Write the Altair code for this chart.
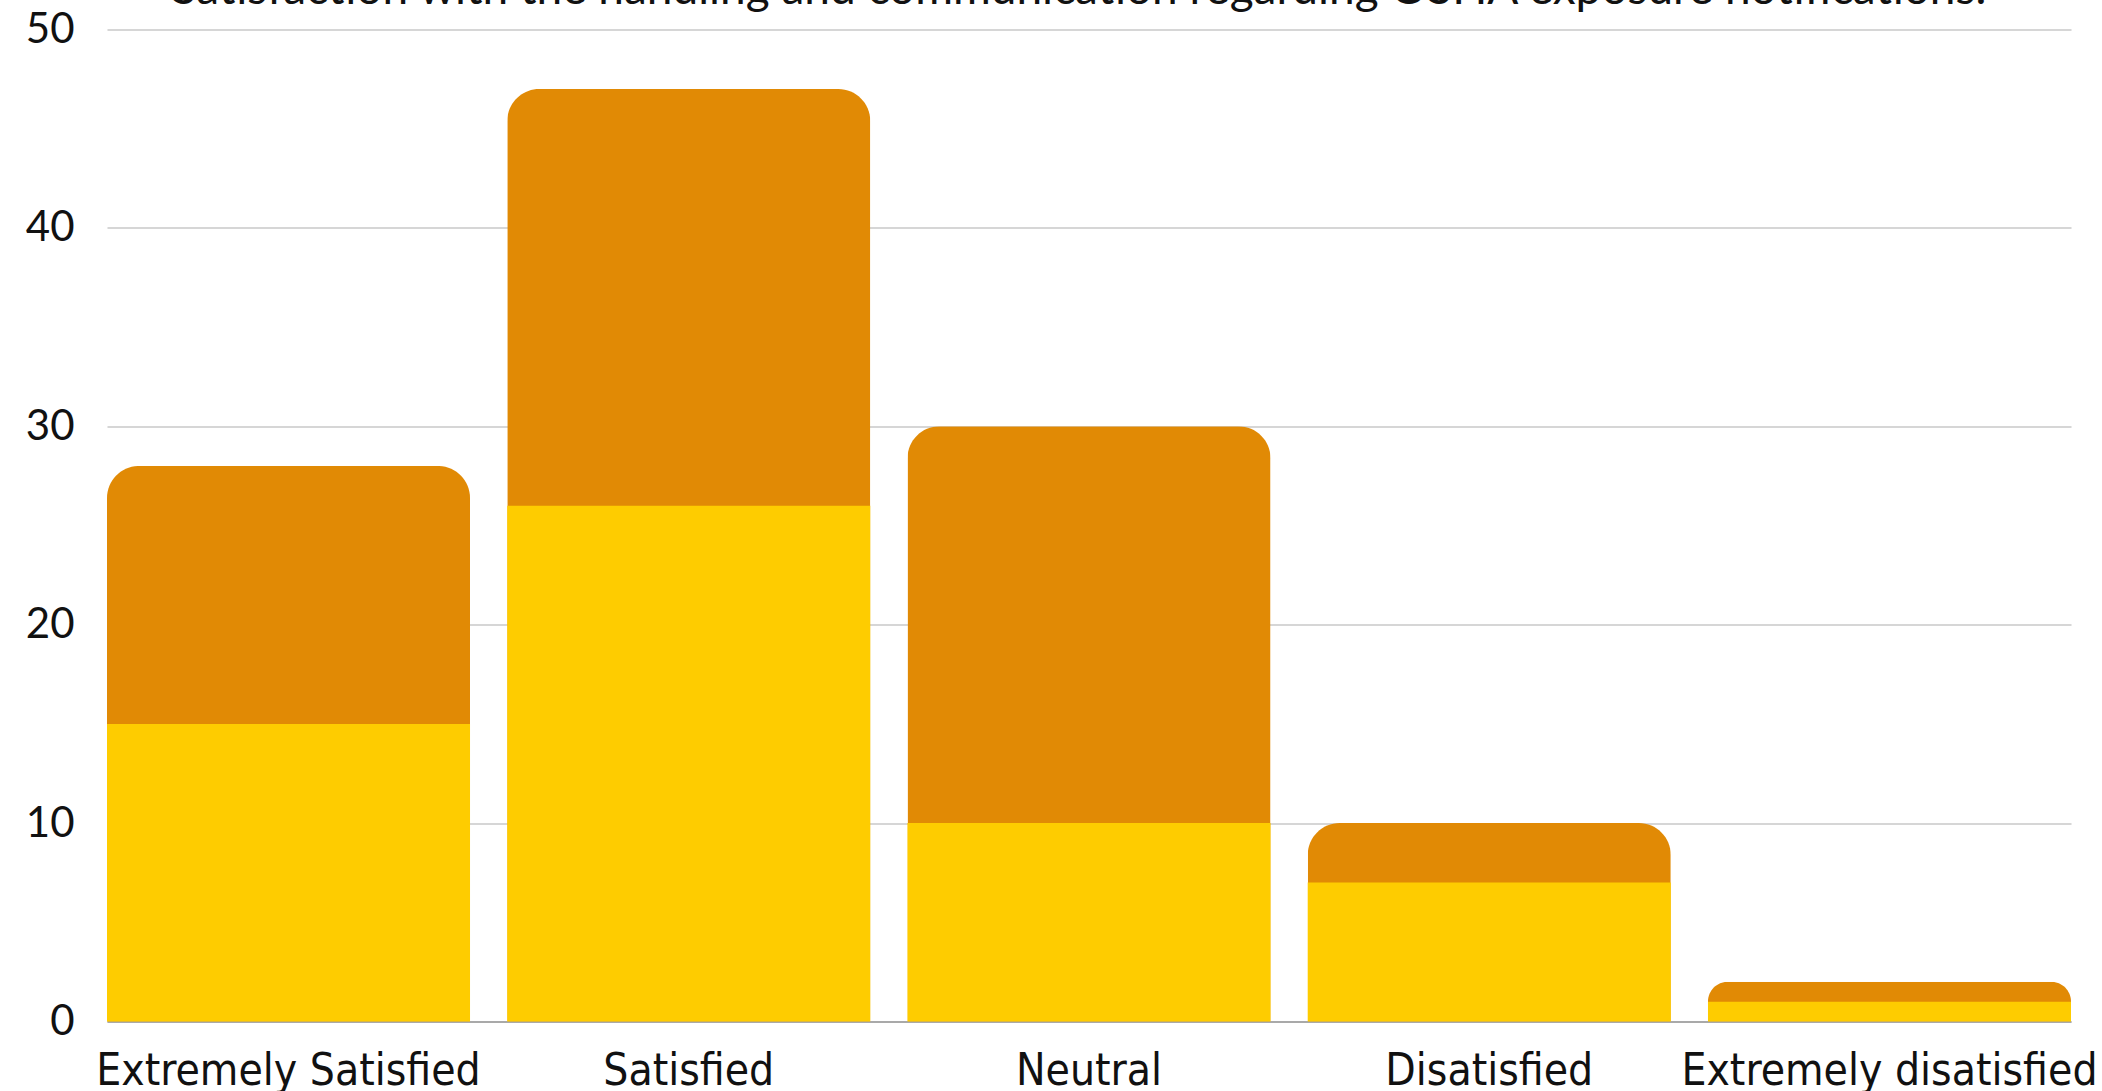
import altair as alt
import pandas as pd

# Survey responses per satisfaction level, split into two stacked groups
categories = [
    "Extremely Satisfied",
    "Satisfied",
    "Neutral",
    "Disatisfied",
    "Extremely disatisfied",
]
lower_counts = [15, 26, 10, 7, 1]
upper_counts = [13, 21, 20, 3, 1]
y_ticks = [0, 10, 20, 30, 40, 50]
title_text = (
    "Satisfaction with the handling and communication regarding "
    "OSHA exposure notifications."
)

df = pd.DataFrame({"category": categories, "lower": lower_counts, "upper": upper_counts})
df["total"] = df["lower"] + df["upper"]

W, H = 1964, 992
ORANGE = "#E18A05"
YELLOW = "#FECC00"
TICK_FONT = "Lato"
CAT_FONT = "Liberation Sans Narrow, DejaVu Sans Condensed, sans-serif"

x_enc = alt.X(
    "category:N",
    sort=categories,
    scale=alt.Scale(paddingInner=0.093, paddingOuter=0),
    axis=alt.Axis(
        title=None,
        labelAngle=0,
        labelFont=CAT_FONT,
        labelFontSize=44,
        labelColor="#111111",
        labelPadding=63,
        labelBaseline="alphabetic",
        labelLimit=0,
        ticks=False,
        grid=False,
        domainColor="#9a9a9a",
        domainWidth=1.5,
    ),
)
y_scale = alt.Scale(domain=[0, 50], nice=False)

# Full-height bar with rounded top (upper group colour)
upper = alt.Chart(df).mark_bar(
    color=ORANGE, cornerRadiusTopLeft=32, cornerRadiusTopRight=32
).encode(
    x=x_enc,
    y=alt.Y(
        "total:Q",
        scale=y_scale,
        axis=alt.Axis(
            title=None,
            values=y_ticks,
            labelFont=TICK_FONT,
            labelFontSize=42,
            labelColor="#111111",
            labelPadding=33,
            ticks=False,
            domain=False,
            grid=True,
            gridColor="#c8c8c8",
            gridWidth=1.5,
        ),
    ),
)

# Lower group drawn over the base of each bar
lower = alt.Chart(df).mark_bar(color=YELLOW).encode(
    x=alt.X("category:N", sort=categories),
    y=alt.Y("lower:Q", scale=y_scale),
)

title = alt.Chart(pd.DataFrame({"t": [title_text]})).mark_text(
    font=TICK_FONT, fontSize=46, color="#111111", align="center", baseline="alphabetic"
).encode(text="t:N", x=alt.value(972), y=alt.value(-26))

chart = (
    alt.layer(upper, lower, title)
    .properties(
        width=W,
        height=H,
        autosize=alt.AutoSizeParams(type="none"),
        padding={"left": 107, "top": 29.5, "right": 31, "bottom": 69.5},
    )
    .configure_view(stroke=None)
)

chart.save("out.html", embed_options={"renderer": "svg", "actions": False})
